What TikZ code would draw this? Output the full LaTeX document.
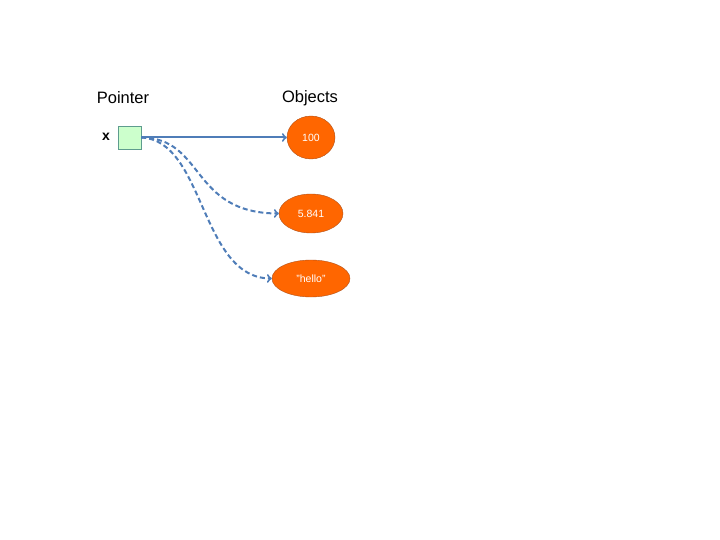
\documentclass[tikz,border=0pt]{standalone}
\usepackage{fontspec}
\setmainfont{Liberation Sans}
\usepackage{xcolor}
\usetikzlibrary{shapes.geometric}
\definecolor{objfill}{HTML}{FF6600}
\definecolor{objline}{HTML}{B0521C}
\definecolor{boxfill}{HTML}{CCFFCC}
\definecolor{boxline}{HTML}{5E9C8E}
\definecolor{ptrline}{HTML}{4F7DB8}
\tikzset{
  obj/.style={ellipse,draw=objline,fill=objfill,text=white,inner sep=0pt,
    font=\fontsize{10.5}{12}\selectfont},
  ptr/.style={draw=ptrline,line width=2pt,->},
}

\begin{document}
\begin{tikzpicture}[x=1pt,y=-1pt]
  \useasboundingbox (0,0) rectangle (720,540);
  \node (ph) at (123,98) {\fontsize{16.5}{18}\selectfont Pointer};
  \node (oh) at (310,98) {\fontsize{16.5}{18}\selectfont Objects};
  \node (bx) [draw=boxline,fill=boxfill,minimum size=23pt,inner sep=0pt]
    at (129.5,137.5) {};
  \node (xl) at (106,137) {\fontsize{14}{16}\selectfont\bfseries x};
  \node (o1) [obj,minimum width=48pt,minimum height=43pt] at (311,137.5) {100};
  \node (o2) [obj,minimum width=64pt,minimum height=39pt] at (311,213.5) {5.841};
  \node (o3) [obj,minimum width=78pt,minimum height=37pt] at (311,278.5) {"hello"};
  \draw[ptr] (bx.east) -- (o1.west);
  \draw[ptr,dash pattern=on 5pt off 3pt] (bx.east)
    .. controls (205,138) and (190,213) .. (o2.west);
  \draw[ptr,dash pattern=on 5pt off 3pt] (bx.east)
    .. controls (205,140) and (200,278) .. (o3.west);
\end{tikzpicture}
\end{document}
